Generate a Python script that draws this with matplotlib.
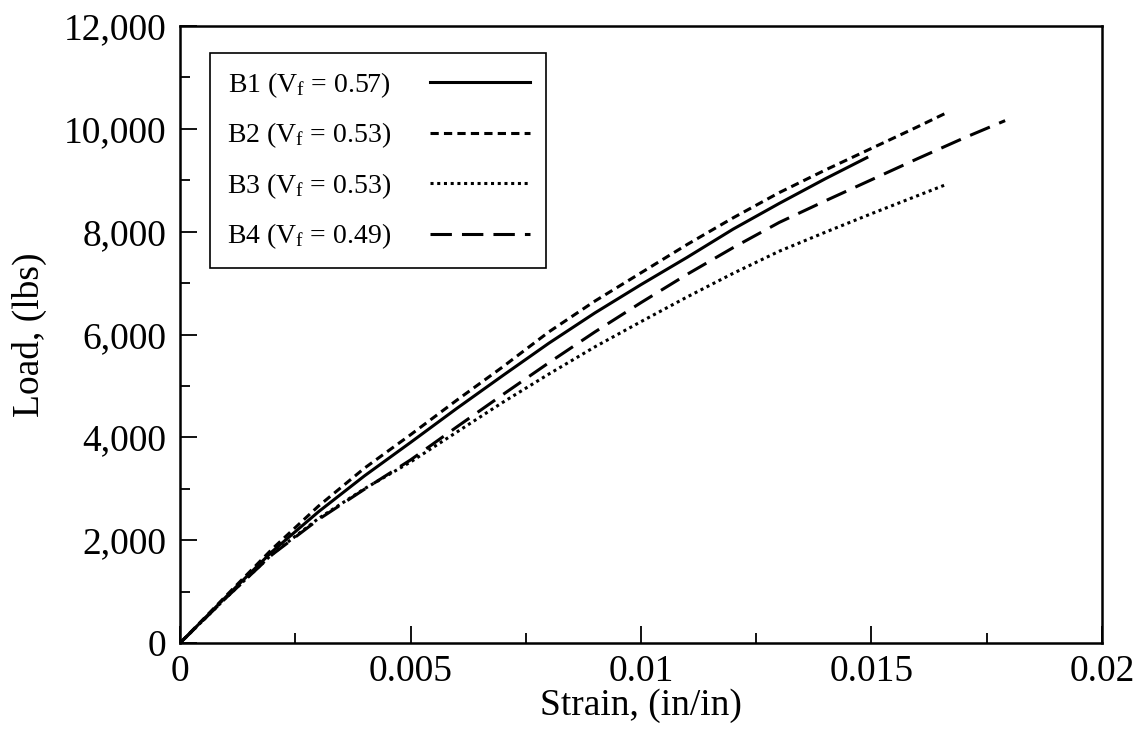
import matplotlib
matplotlib.use("Agg")
import matplotlib.pyplot as plt
from matplotlib.ticker import MultipleLocator, FuncFormatter

plt.rcParams['font.family'] = ['Liberation Serif', 'DejaVu Serif']
plt.rcParams['mathtext.fontset'] = 'custom'
plt.rcParams['mathtext.rm'] = 'Liberation Serif'
plt.rcParams['mathtext.it'] = 'Liberation Serif:italic'

# strain (in/in) vs load (lbs)
b1_strain = [0, 0.001, 0.002, 0.003, 0.004, 0.005, 0.006, 0.007, 0.008, 0.009,
             0.010, 0.011, 0.012, 0.013, 0.014, 0.0149]
b1_load = [0, 900, 1780, 2550, 3250, 3900, 4560, 5200, 5830, 6420,
           6970, 7500, 8050, 8550, 9030, 9440]

b2_strain = [0, 0.001, 0.002, 0.003, 0.004, 0.005, 0.006, 0.007, 0.008, 0.009,
             0.010, 0.011, 0.012, 0.013, 0.014, 0.015, 0.016, 0.0166]
b2_load = [0, 920, 1830, 2660, 3400, 4050, 4720, 5370, 6050, 6650,
           7200, 7750, 8270, 8760, 9200, 9620, 10040, 10300]

b3_strain = [0, 0.001, 0.002, 0.003, 0.004, 0.005, 0.006, 0.007, 0.008, 0.009,
             0.010, 0.011, 0.012, 0.013, 0.014, 0.015, 0.016, 0.0166]
b3_load = [0, 880, 1730, 2420, 3000, 3520, 4100, 4680, 5230, 5760,
           6250, 6730, 7190, 7620, 7990, 8350, 8700, 8910]

b4_strain = [0, 0.001, 0.002, 0.003, 0.004, 0.005, 0.006, 0.007, 0.008, 0.009,
             0.010, 0.011, 0.012, 0.013, 0.014, 0.015, 0.016, 0.017, 0.0179]
b4_load = [0, 880, 1720, 2400, 2990, 3560, 4200, 4830, 5450, 6050,
           6620, 7170, 7690, 8180, 8600, 9010, 9420, 9820, 10160]

labels = [r'B1 ($\mathrm{V_f}$ = 0.57)', r'B2 ($\mathrm{V_f}$ = 0.53)',
          r'B3 ($\mathrm{V_f}$ = 0.53)', r'B4 ($\mathrm{V_f}$ = 0.49)']

fig = plt.figure(figsize=(11.36, 7.31), dpi=100)
ax = fig.add_axes([0.1585, 0.1204, 0.8115, 0.844])

lw = 2.2
ax.plot(b1_strain, b1_load, color='black', lw=lw, label=labels[0])
ax.plot(b2_strain, b2_load, color='black', lw=lw, dashes=(2.7, 1.7), label=labels[1])
ax.plot(b3_strain, b3_load, color='black', lw=lw, dashes=(1, 1.2), label=labels[2])
ax.plot(b4_strain, b4_load, color='black', lw=lw, dashes=(7, 3.3), label=labels[3])

ax.set_xlim(0, 0.02)
ax.set_ylim(0, 12000)
ax.xaxis.set_major_locator(MultipleLocator(0.005))
ax.xaxis.set_minor_locator(MultipleLocator(0.0025))
ax.yaxis.set_major_locator(MultipleLocator(2000))
ax.yaxis.set_minor_locator(MultipleLocator(1000))
ax.xaxis.set_major_formatter(FuncFormatter(lambda v, p: '0' if v == 0 else ('%g' % v)))
ax.yaxis.set_major_formatter(FuncFormatter(lambda v, p: '{:,.0f}'.format(v)))

ax.tick_params(which='major', direction='in', length=12, width=1.3, labelsize=27)
ax.tick_params(which='minor', direction='in', length=7, width=1.3)
ax.tick_params(axis='x', which='major', pad=8)
ax.tick_params(axis='y', which='major', pad=10)
ax.tick_params(top=False, right=False, which='both')

for s in ax.spines.values():
    s.set_linewidth(1.8)

ax.set_xlabel('Strain, (in/in)', fontsize=27, labelpad=0)
ax.set_ylabel('Load, (lbs)', fontsize=27, labelpad=12)

leg = ax.legend(loc='upper left', bbox_to_anchor=(0.0325, 0.956), borderaxespad=0,
                markerfirst=False, handlelength=3.6, labelspacing=0.75, fontsize=20,
                fancybox=False, framealpha=1, edgecolor='black', borderpad=0.6,
                handletextpad=1.4)
leg.get_frame().set_linewidth(1.2)

fig.savefig('out.png', dpi=100)
